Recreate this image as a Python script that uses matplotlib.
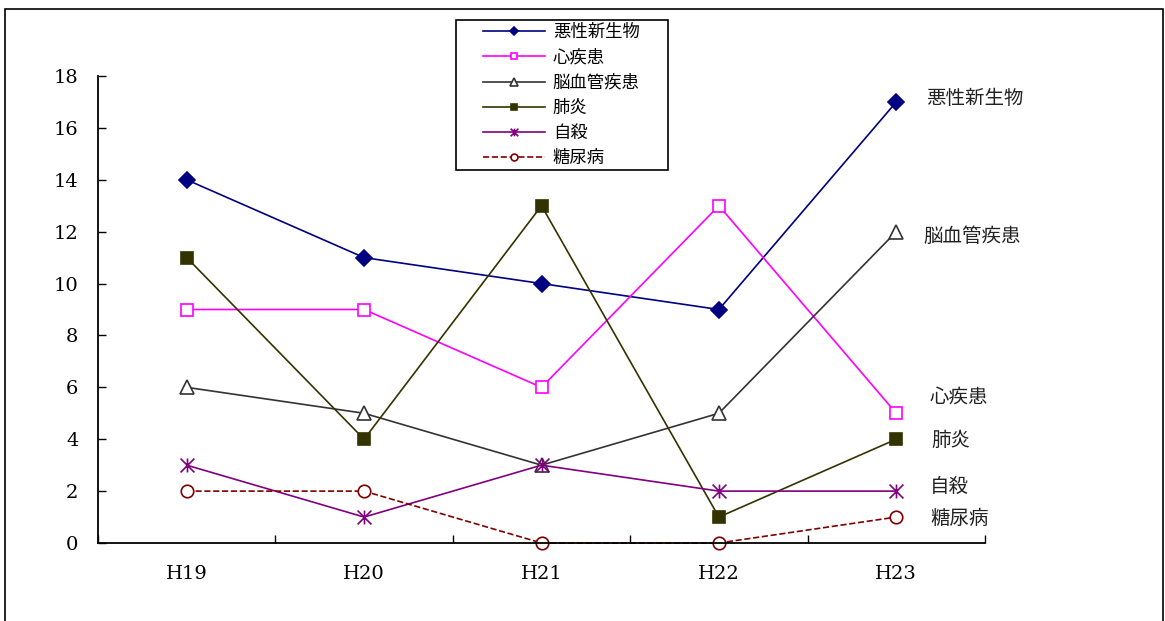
import numpy as np
import matplotlib
matplotlib.use("Agg")
import matplotlib.pyplot as plt
from matplotlib.path import Path
from matplotlib.patches import Rectangle

plt.rcParams['font.family'] = ['Noto Sans CJK JP', 'DejaVu Sans']

years = ["H19", "H20", "H21", "H22", "H23"]
names = ["悪性新生物", "心疾患", "脳血管疾患", "肺炎", "自殺", "糖尿病"]
akusei = [14, 11, 10, 9, 17]
shin = [9, 9, 6, 13, 5]
nou = [6, 5, 3, 5, 12]
haien = [11, 4, 13, 1, 4]
jisatsu = [3, 1, 3, 2, 2]
tonyo = [2, 2, 0, 0, 1]

# labels written at the right end of the lines
end_names = ["悪性新生物", "脳血管疾患", "心疾患", "肺炎", "自殺", "糖尿病"]
end_y = [17.15, 11.8, 5.63, 3.97, 2.16, 0.93]
end_x = [4.17, 4.15, 4.19, 4.2, 4.19, 4.19]

# asterisk marker like the spreadsheet one: vertical bar + X
star = Path([(0, -1), (0, 1), (-1, -1), (1, 1), (-1, 1), (1, -1)],
            [Path.MOVETO, Path.LINETO, Path.MOVETO, Path.LINETO, Path.MOVETO, Path.LINETO])

styles = [
    dict(color="#000080", marker="D", mfc="#000080", ms=8, ls="-"),
    dict(color="#FF00FF", marker="s", mfc="white", ms=8, ls="-"),
    dict(color="#333333", marker="^", mfc="white", ms=10, ls="-"),
    dict(color="#333300", marker="s", mfc="#333300", ms=8, ls="-"),
    dict(color="#800080", marker=star, mfc="none", ms=10, ls="-"),
    dict(color="#800000", marker="o", mfc="white", ms=9, ls="--"),
]
series = [akusei, shin, nou, haien, jisatsu, tonyo]

W, H = 1165, 621
fig = plt.figure(figsize=(W / 100, H / 100), dpi=100)
ax = fig.add_axes([98 / W, 78 / H, 887 / W, 467 / H])

x = np.arange(len(years))
for name, vals, st in zip(names, series, styles):
    ax.plot(x, vals, label=name, lw=1.2, mew=1.2, clip_on=False, **st)

ax.set_xlim(-0.5, 4.5)
ax.set_ylim(0, 18)
ax.set_yticks(range(0, 19, 2))
ax.set_xticks(x)
ax.set_xticklabels(years)
ax.set_xticks(np.arange(-0.5, 4.6, 1), minor=True)
for s in ["top", "right"]:
    ax.spines[s].set_visible(False)
for s in ["left", "bottom"]:
    ax.spines[s].set_linewidth(1.3)
ax.tick_params(axis="y", direction="in", length=6, width=1, pad=14, labelsize=14)
ax.tick_params(axis="x", which="major", length=0, pad=16, labelsize=14)
ax.tick_params(axis="x", which="minor", direction="in", length=6, width=1)
for lab in ax.get_xticklabels() + ax.get_yticklabels():
    lab.set_family("DejaVu Serif")

for name, lx, ly in zip(end_names, end_x, end_y):
    ax.text(lx, ly, name, fontsize=14, va="center", ha="left", color="#222222")

# legend without its own frame; the box is drawn separately
fig.legend(loc="upper left", bbox_to_anchor=(483 / W, 1 - 23 / H),
           fontsize=12.5, frameon=False, handlelength=3.56, handletextpad=0.46,
           labelspacing=0.42, borderpad=0, borderaxespad=0, markerscale=0.55)
fig.add_artist(Rectangle((456 / W, 1 - 170 / H), 212 / W, 150 / H,
                         transform=fig.transFigure, fill=False,
                         edgecolor="black", lw=1.2))

fig.add_artist(Rectangle((5 / W, -0.1), 1158 / W, 1.1 - 9 / H,
                         transform=fig.transFigure, fill=False,
                         edgecolor="black", lw=1.2))

fig.savefig("out.png", dpi=100)
